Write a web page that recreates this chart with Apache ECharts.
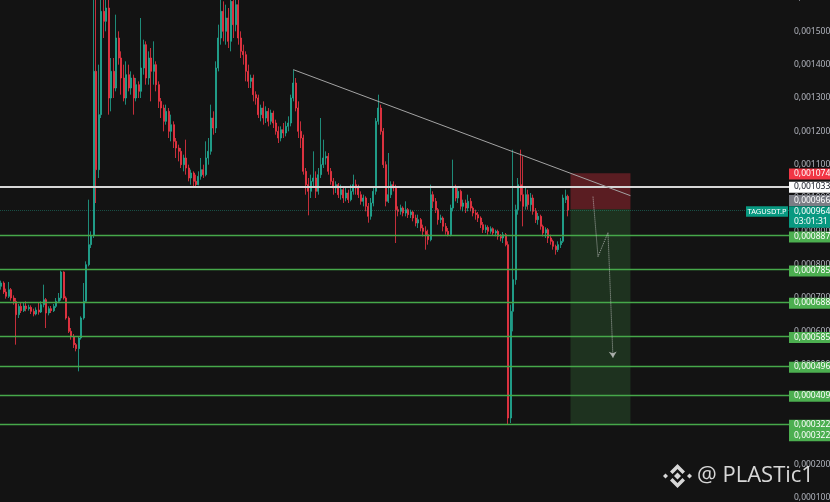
<!DOCTYPE html>
<html><head><meta charset="utf-8">
<script src="https://cdn.jsdelivr.net/npm/echarts@6/dist/echarts.min.js"></script>
<style>html,body{margin:0;padding:0;background:#131313;overflow:hidden}#c{width:830px;height:502px}</style>
</head><body><div id="c"></div>
<script>
// prices in millionths of USDT (e.g. 964 = 0.000964)
const opens = [735,745,718,705,725,700,690,650,675,662, 676,668,672,660,652,664,658,680,695,655,
668,662,675,690,700,778,700,640,600,585, 560,548,580,640,690,800,860,887,1380,1085,
1250,1560,1530,1570,1300,1380,1330,1480,1420,1360, 1300,1370,1330,1360,1300,1340,1320,1390,1460,1360,
1420,1380,1400,1340,1290,1270,1230,1260,1200,1220, 1170,1150,1140,1100,1120,1090,1060,1075,1050,1040,
1065,1085,1070,1120,1140,1240,1210,1390,1480,1560, 1500,1540,1470,1590,1520,1580,1480,1440,1430,1380,
1350,1360,1310,1300,1250,1270,1240,1260,1230,1255, 1225,1200,1180,1205,1195,1215,1225,1300,1345,1270,
1200,1180,1080,1040,1020,1050,1060,1020,1070,1100, 1120,1125,1080,1050,1030,1040,1010,1025,1000,1015,
995,1020,1040,1030,1010,990,1000,975,945,985, 1020,1230,1270,1200,1100,990,1010,1040,1030,965,
960,970,955,965,950,958,940,925,935,910, 900,890,875,1010,990,965,935,940,915,900,
890,970,1030,1000,1020,975,985,970,990,970, 955,950,940,920,905,912,900,908,895,900,
885,880,890,860,340,660,755,965,1040,1010, 975,1010,980,1000,960,935,945,915,895,905,
880,870,855,845,860,870,995,1005];
const closes = [745,718,705,725,700,690,650,675,662,676, 668,672,660,652,664,658,680,695,655,668,
662,675,690,700,778,700,640,600,585,560, 548,580,640,690,800,860,887,1380,1085,1250,
1560,1530,1570,1300,1380,1330,1480,1420,1360,1300, 1370,1330,1360,1300,1340,1320,1390,1460,1360,1420,
1380,1400,1340,1290,1270,1230,1260,1200,1220,1170, 1150,1140,1100,1120,1090,1060,1075,1050,1040,1065,
1085,1070,1120,1140,1240,1210,1390,1480,1560,1500, 1540,1470,1590,1520,1580,1480,1440,1430,1380,1350,
1360,1310,1300,1250,1270,1240,1260,1230,1255,1225, 1200,1180,1205,1195,1215,1225,1300,1345,1270,1200,
1180,1080,1040,1020,1050,1060,1020,1070,1100,1120, 1125,1080,1050,1030,1040,1010,1025,1000,1015,995,
1020,1040,1030,1010,990,1000,975,945,985,1020, 1230,1270,1200,1100,990,1010,1040,1030,965,960,
970,955,965,950,958,940,925,935,910,900, 890,875,1010,990,965,935,940,915,900,890,
970,1030,1000,1020,975,985,970,990,970,955, 950,940,920,905,912,900,908,895,900,885,
880,890,860,340,660,755,965,1040,1010,975, 1010,980,1000,960,935,945,915,895,905,880,
870,855,845,860,870,1000,1005,964];
const lows = [725,712,698,700,692,680,560,640,655,658, 660,662,652,645,648,650,655,672,610,648,
655,658,670,685,692,695,635,595,575,550, 540,480,575,635,685,795,850,880,985,1060,
1240,1480,1500,1250,1260,1300,1320,1400,1310,1290, 1280,1320,1310,1250,1290,1300,1300,1370,1340,1340,
1290,1340,1320,1270,1240,1200,1220,1180,1170,1150, 1120,1110,1090,1080,1070,1050,1040,1030,1035,1038,
1055,1060,1065,1100,1130,1190,1195,1380,1460,1470, 1460,1450,1440,1480,1500,1460,1420,1400,1350,1330,
1330,1290,1280,1240,1230,1220,1225,1215,1220,1210, 1190,1165,1170,1180,1185,1200,1215,1290,1260,1180,
1150,1070,1010,948,1000,1030,1000,1010,1060,1090, 1100,1070,1040,1010,1015,1000,995,985,990,985,
990,1010,1010,1000,980,975,960,926,935,975, 1010,1220,1190,1090,975,985,1000,1020,865,945,
950,945,945,940,940,930,915,910,900,885, 845,860,870,970,955,920,925,900,890,885,
885,960,990,985,965,960,955,960,960,945, 935,928,910,895,895,890,893,888,885,875,
870,865,855,320,325,600,740,950,990,915, 965,965,960,950,925,920,905,885,880,865,
860,845,830,838,850,865,985,945];
const highs = [752,750,728,748,730,708,700,682,685,685, 690,680,678,668,672,688,690,740,700,675,
676,682,700,715,782,780,705,645,610,592, 565,585,645,745,810,995,900,1600,1600,1400,
1600,1600,1600,1600,1420,1420,1550,1500,1440,1400, 1410,1400,1380,1370,1360,1350,1540,1475,1470,1440,
1450,1470,1410,1350,1300,1280,1280,1270,1250,1230, 1180,1160,1150,1130,1175,1100,1085,1080,1070,1080,
1120,1100,1170,1180,1280,1260,1410,1520,1600,1590, 1580,1570,1600,1600,1600,1600,1500,1460,1440,1400,
1370,1370,1320,1310,1280,1290,1275,1270,1265,1262, 1235,1215,1215,1225,1230,1245,1310,1385,1360,1290,
1230,1190,1090,1060,1070,1140,1080,1090,1240,1175, 1140,1135,1090,1060,1050,1045,1040,1035,1030,1025,
1040,1070,1055,1040,1020,1010,1005,985,1000,1030, 1240,1310,1280,1210,1110,1135,1050,1050,1040,975,
980,975,990,970,965,962,950,950,940,920, 915,905,1040,1020,1000,970,950,945,925,910,
980,1115,1040,1030,1025,995,995,1010,1000,975, 965,958,945,928,920,918,915,912,905,905,
892,898,895,870,680,1145,980,1060,1145,1125, 1035,1025,1015,1010,970,955,950,920,912,910,
890,875,860,870,880,1010,1025,1010];

const stopLevel = 1074;
const resistanceLevel = 1033;
const entryLevel = 966;
const lastPrice = 964;
const countdown = '03:01:31';
const symbolName = 'TAGUSDT.P';
const targetLevels = [887, 785, 688, 585, 496, 409, 322];
const trendLine = [[117, 1385], [252, 1007]];
const arrowPath = [[237, 1004], [239, 824], [243, 896], [245, 521]];
const boxRange = [228, 252];
const slotCount = 316;

const fmt = v => '0,' + String(Math.round(v)).padStart(6, '0');
const categories = Array.from({length: slotCount}, (_, i) => String(i));
const candles = opens.map((o, i) => [o, closes[i], lows[i], highs[i]]);

const chart = echarts.init(document.getElementById('c'), null, {renderer: 'canvas'});

const lineData = [];
targetLevels.forEach(v => lineData.push({yAxis: v, lineStyle: {color: '#46a84a', width: 1.3, type: 'solid'}}));
lineData.push({yAxis: resistanceLevel, lineStyle: {color: '#d6d6d6', width: 2, type: 'solid'}});
lineData.push({yAxis: lastPrice, lineStyle: {color: 'rgba(34,171,148,0.4)', width: 1, type: 'dotted'}});
lineData.push([{coord: trendLine[0], lineStyle: {color: '#a3a3a3', width: 1, type: 'solid'}}, {coord: trendLine[1]}]);
for (let k = 0; k < arrowPath.length - 1; k++) {
  const last = k === arrowPath.length - 2;
  lineData.push([
    {coord: arrowPath[k], symbol: 'none', lineStyle: {color: 'rgba(210,210,210,0.75)', width: 1, type: 'dotted'}},
    {coord: arrowPath[k + 1], symbol: last ? 'arrow' : 'none', symbolSize: last ? 6 : 0}
  ]);
}

chart.setOption({
  backgroundColor: '#131313',
  animation: false,
  grid: {left: 0, right: 41, top: -2, bottom: 4, containLabel: false, outerBoundsMode: 'none'},
  xAxis: {type: 'category', data: categories, show: false, boundaryGap: true},
  yAxis: {
    type: 'value', position: 'right', min: 100, max: 1600, interval: 100,
    splitLine: {show: false}, axisLine: {show: false}, axisTick: {show: false},
    axisLabel: {color: '#b2b5be', fontSize: 8.5, fontFamily: 'Noto Sans', margin: 5, formatter: fmt}
  },
  series: [{
    type: 'candlestick',
    data: candles,
    barWidth: 1.5,
    clip: true,
    itemStyle: {color: '#22ab94', color0: '#f23645', borderColor: '#22ab94', borderColor0: '#f23645', borderWidth: 0.8},
    markArea: {
      silent: true,
      data: [
        [{coord: [boxRange[0], stopLevel], itemStyle: {color: 'rgba(242,54,69,0.32)'}}, {coord: [boxRange[1], entryLevel]}],
        [{coord: [boxRange[0], entryLevel], itemStyle: {color: 'rgba(76,175,80,0.2)'}}, {coord: [boxRange[1], targetLevels[targetLevels.length - 1]]}]
      ]
    },
    markLine: {
      silent: true, symbol: ['none', 'none'], label: {show: false}, animation: false,
      data: lineData
    }
  }]
});

// price tags on the right scale
const tags = [
  {v: stopLevel, bg: '#f23645', fg: '#ffffff', dy: 0.5, lines: [fmt(stopLevel)]},
  {v: resistanceLevel, bg: '#ffffff', fg: '#131722', dy: 0, lines: [fmt(resistanceLevel)]},
  {v: entryLevel, bg: '#7b7d85', fg: '#ffffff', dy: -9, lines: [fmt(entryLevel)]},
  {v: lastPrice, bg: '#089981', fg: '#ffffff', dy: 1.5, lines: [fmt(lastPrice), countdown]}
];
targetLevels.forEach((v, i) => tags.push({v, bg: '#4caf50', fg: '#ffffff', dy: 1,
  lines: i === targetLevels.length - 1 ? [fmt(v), fmt(v)] : [fmt(v)]}));

const lh = 10.5;
const gfx = [];
tags.forEach(t => {
  const yc = chart.convertToPixel({yAxisIndex: 0}, t.v) + t.dy;
  gfx.push({type: 'rect', z: 100, shape: {x: 789, y: yc - lh / 2, width: 45, height: lh * t.lines.length + 0.5},
    style: {fill: t.bg}});
  t.lines.forEach((s, j) => gfx.push({type: 'text', z: 101, x: 794, y: yc + j * lh,
    style: {text: s, fill: t.fg, font: '8.5px "Noto Sans"', textVerticalAlign: 'middle', verticalAlign: 'middle'}}));
});
const yl = chart.convertToPixel({yAxisIndex: 0}, lastPrice) + 1.5;
gfx.push({type: 'rect', z: 100, shape: {x: 746, y: yl - lh / 2, width: 42, height: lh}, style: {fill: '#089981'}});
gfx.push({type: 'text', z: 101, x: 767, y: yl, style: {text: symbolName, fill: '#ffffff', font: '7.5px "Noto Sans"', align: 'center', textAlign: 'center', verticalAlign: 'middle', textVerticalAlign: 'middle'}});

// watermark
const wm = 'rgba(232,232,232,0.92)';
gfx.push({type: 'polygon', z: 110, shape: {points: [[677.5,472.5],[681,476],[677.5,479.5],[674,476]]}, style: {fill: wm}});
gfx.push({type: 'polygon', z: 110, shape: {points: [[665.5,473.5],[668,476],[665.5,478.5],[663,476]]}, style: {fill: wm}});
gfx.push({type: 'polygon', z: 110, shape: {points: [[689.5,473.5],[692,476],[689.5,478.5],[687,476]]}, style: {fill: wm}});
gfx.push({type: 'polygon', z: 110, shape: {points: [[677.5,464],[685,471.5],[682.5,474],[677.5,469],[672.5,474],[670,471.5]]}, style: {fill: wm}});
gfx.push({type: 'polygon', z: 110, shape: {points: [[677.5,488],[685,480.5],[682.5,478],[677.5,483],[672.5,478],[670,480.5]]}, style: {fill: wm}});
gfx.push({type: 'text', z: 110, x: 697, y: 476, style: {text: '@ PLASTic1', fill: wm, font: '22px "Open Sans"', verticalAlign: 'middle', textVerticalAlign: 'middle'}});

chart.setOption({graphic: gfx});
</script>
</body></html>
